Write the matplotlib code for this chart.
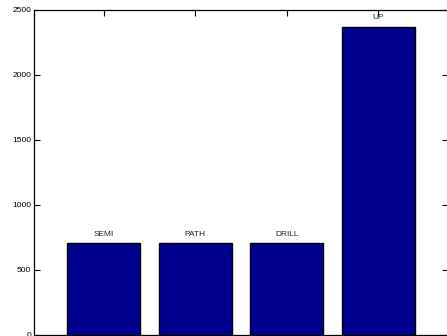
import matplotlib
matplotlib.use("Agg")
import matplotlib.pyplot as plt

# bar data
names = ['SEMI', 'PATH', 'DRILL', 'UP']
counts = [703, 703, 703, 2372]
positions = [1, 2, 3, 4]

plt.rcParams['font.family'] = ['Liberation Sans', 'DejaVu Sans']

fig = plt.figure(figsize=(4.47, 3.36), dpi=100)
ax = fig.add_axes([34 / 447, 1.5 / 336, 414 / 447, 324.5 / 336])
ax.set_axisbelow(True)  # ticks sit under the bars

ax.bar(positions, counts, width=0.8, color='#00008f', edgecolor='black', linewidth=1.0)

for x, h, name in zip(positions, counts, names):
    ax.annotate(name, (x, h), xytext=(0, 4), textcoords='offset points',
                ha='center', va='bottom', fontsize=6, color='#222222')

ax.set_xlim(0.24, 4.76)
ax.set_ylim(0, 2500)
ax.set_yticks([0, 500, 1000, 1500, 2000, 2500])
ax.set_xticks(positions)
ax.set_xticklabels([])
ax.tick_params(axis='both', direction='in', length=4, width=0.8,
               top=True, right=True, labelsize=6, pad=2)
for s in ax.spines.values():
    s.set_linewidth(0.9)

fig.savefig('out.png', dpi=100)
